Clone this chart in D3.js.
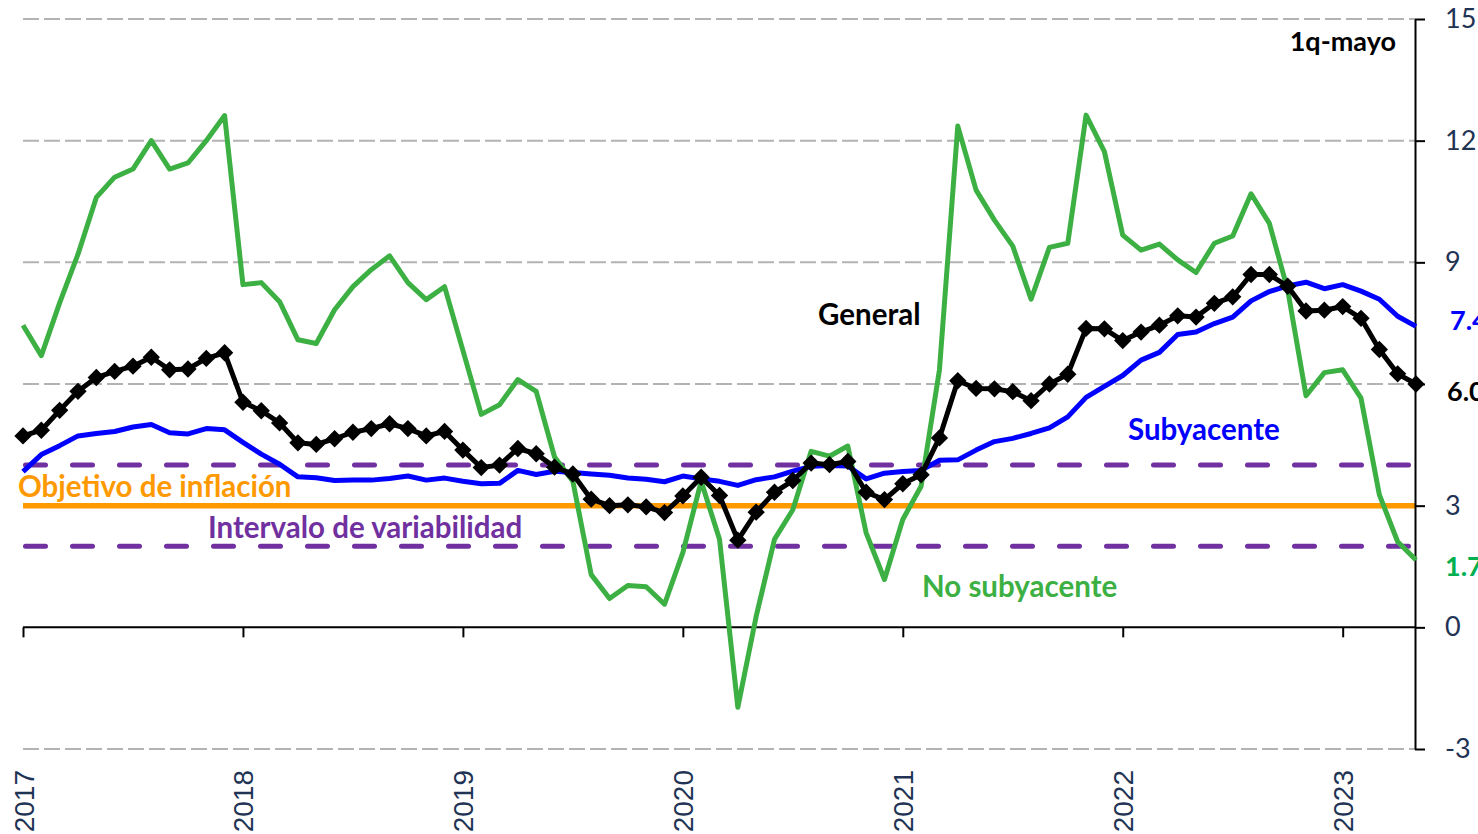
<!DOCTYPE html>
<html>
<head>
<meta charset="utf-8">
<script src="https://cdn.jsdelivr.net/npm/d3@7"></script>
<style>
html,body{margin:0;padding:0;background:#fff;overflow:hidden;}
svg{display:block;font-family:Lato,"Open Sans",sans-serif;}
</style>
</head>
<body>
<svg id="chart" width="1478" height="834"></svg>
<script>
// ---- data (annual inflation, %, monthly Jan-2017 .. 1q May-2023)
const years = ["2017","2018","2019","2020","2021","2022","2023"];
const yTicks = [15, 12, 9, 6, 3, 0, -3];
const yTickLabels = ["15", "12", "9", "", "3", "0", "-3"];
const gridValues = [15, 12, 9, 6, -3];
const general = [
  4.72, 4.86, 5.35, 5.82, 6.16, 6.31, 6.44, 6.66, 6.35, 6.37, 6.63, 6.77,
  5.55, 5.34, 5.04, 4.55, 4.51, 4.65, 4.81, 4.90, 5.02, 4.90, 4.72, 4.83,
  4.37, 3.94, 4.00, 4.41, 4.28, 3.95, 3.78, 3.16, 3.00, 3.02, 2.97, 2.83,
  3.24, 3.70, 3.25, 2.15, 2.84, 3.33, 3.62, 4.05, 4.01, 4.09, 3.33, 3.15,
  3.54, 3.76, 4.67, 6.08, 5.89, 5.88, 5.81, 5.59, 6.00, 6.24, 7.37, 7.36,
  7.07, 7.28, 7.45, 7.68, 7.65, 7.99, 8.15, 8.70, 8.70, 8.41, 7.80, 7.82,
  7.91, 7.62, 6.85, 6.25, 6.00
];
const subyacente = [
  3.84, 4.26, 4.48, 4.72, 4.78, 4.83, 4.94, 5.00, 4.80, 4.77, 4.90, 4.87,
  4.56, 4.27, 4.02, 3.71, 3.69, 3.62, 3.63, 3.63, 3.67, 3.73, 3.63, 3.68,
  3.60, 3.54, 3.55, 3.87, 3.77, 3.85, 3.82, 3.78, 3.75, 3.68, 3.65, 3.59,
  3.73, 3.66, 3.60, 3.50, 3.64, 3.71, 3.85, 3.97, 3.99, 3.98, 3.66, 3.80,
  3.84, 3.87, 4.12, 4.13, 4.37, 4.58, 4.66, 4.78, 4.92, 5.19, 5.67, 5.94,
  6.21, 6.59, 6.78, 7.22, 7.28, 7.49, 7.65, 8.05, 8.28, 8.42, 8.51, 8.35,
  8.45, 8.29, 8.09, 7.67, 7.42
];
const noSubyacente = [
  7.45, 6.70, 8.00, 9.20, 10.60, 11.10, 11.30, 12.00, 11.30, 11.45, 12.00, 12.62,
  8.45, 8.50, 8.03, 7.09, 7.00, 7.83, 8.40, 8.82, 9.16, 8.50, 8.08, 8.40,
  6.83, 5.25, 5.49, 6.11, 5.82, 4.20, 3.60, 1.30, 0.71, 1.03, 1.00, 0.57,
  1.84, 3.60, 2.17, -1.97, 0.27, 2.17, 2.90, 4.34, 4.22, 4.47, 2.33, 1.18,
  2.66, 3.48, 6.35, 12.36, 10.78, 10.04, 9.40, 8.09, 9.37, 9.47, 12.63, 11.73,
  9.67, 9.30, 9.45, 9.06, 8.75, 9.47, 9.65, 10.69, 9.96, 8.32, 5.71, 6.28,
  6.35, 5.65, 3.27, 2.11, 1.66
];
const objetivo = 3;
const intervalo = [2, 4];
const lastLabels = ["7.4", "6.0", "1.7"];

// ---- scales
const svg = d3.select("#chart");
const nPts = general.length;
const x = d3.scaleLinear().domain([0, nPts - 1]).range([23, 1416]);
const y = d3.scaleLinear().domain([-3, 15]).range([749, 19]);
const xLeft = x(0), xRight = 1415;

// gridlines
svg.append("g").selectAll("line").data(gridValues).join("line")
  .attr("x1", xLeft).attr("x2", xRight)
  .attr("y1", d => y(d)).attr("y2", d => y(d))
  .attr("stroke", "#b3b3b3").attr("stroke-width", 2)
  .attr("stroke-dasharray", "16,5");

// target band and target
svg.append("g").selectAll("line").data(intervalo).join("line")
  .attr("x1", xLeft + 2.5).attr("x2", xRight - 4)
  .attr("y1", d => y(d)).attr("y2", d => y(d))
  .attr("stroke", "#7030a0").attr("stroke-width", 5)
  .attr("stroke-linecap", "round")
  .attr("stroke-dasharray", "20,27");
svg.append("line")
  .attr("x1", xLeft).attr("x2", xRight)
  .attr("y1", y(objetivo)).attr("y2", y(objetivo))
  .attr("stroke", "#ff9900").attr("stroke-width", 5.5);

// x axis at 0
const yearIdx = years.map((_, i) => i * 12);
const xAxis = svg.append("g").attr("transform", `translate(0,${y(0)})`)
  .call(d3.axisBottom(x).tickValues(yearIdx).tickSize(10).tickSizeOuter(0)
    .tickFormat((d, i) => years[i]));
xAxis.select(".domain").attr("stroke", "#000").attr("stroke-width", 2)
  .attr("d", `M${xLeft},0H${xRight}`);
xAxis.selectAll(".tick line").attr("stroke", "#000").attr("stroke-width", 2);
xAxis.selectAll(".tick text")
  .attr("fill", "#1f3354").attr("font-size", 28)
  .attr("text-anchor", "end").attr("dy", null)
  .attr("transform", `translate(10,${770 - y(0)}) rotate(-90)`)
  .attr("x", 0).attr("y", 0);

// right axis
const yAxis = svg.append("g").attr("transform", `translate(${xRight},0)`)
  .call(d3.axisRight(y).tickValues(yTicks).tickSize(10).tickSizeOuter(0).tickPadding(20)
    .tickFormat((d, i) => yTickLabels[i]));
yAxis.select(".domain").attr("stroke", "#000").attr("stroke-width", 2);
yAxis.selectAll(".tick line").attr("stroke", "#000").attr("stroke-width", 2);
yAxis.selectAll(".tick text").attr("fill", "#1f3354").attr("font-size", 27)
  .attr("font-family", "Lato, sans-serif");

// series lines
const line = d3.line().x((d, i) => x(i)).y(d => y(d));
svg.append("path").datum(noSubyacente).attr("d", line)
  .attr("fill", "none").attr("stroke", "#3cb043").attr("stroke-width", 5)
  .attr("stroke-linejoin", "round");
svg.append("path").datum(subyacente).attr("d", line)
  .attr("fill", "none").attr("stroke", "#0000ff").attr("stroke-width", 5)
  .attr("stroke-linejoin", "round");
svg.append("path").datum(general).attr("d", line)
  .attr("fill", "none").attr("stroke", "#000").attr("stroke-width", 5)
  .attr("stroke-linejoin", "round");
const diamond = d3.symbol().type(d3.symbolSquare).size(150);
svg.append("g").selectAll("path").data(general).join("path")
  .attr("d", diamond)
  .attr("transform", (d, i) => `translate(${x(i)},${y(d)}) rotate(45)`)
  .attr("fill", "#000");

// labels
const lab = (t, xx, yy, col, size, anchor) => svg.append("text")
  .attr("x", xx).attr("y", yy).attr("fill", col)
  .attr("font-size", size).attr("font-weight", "bold")
  .attr("text-anchor", anchor || "start").text(t);
lab("1q-mayo", 1396, 51, "#000", 27, "end");
lab("General", 818, 325, "#000", 29.5);
lab("Subyacente", 1128, 440, "#0000ff", 29.5);
lab("No subyacente", 922, 597, "#3cb043", 29.5);
lab("Objetivo de inflación", 18, 497, "#ff9900", 29.5);
lab("Intervalo de variabilidad", 208, 538, "#7030a0", 29.5);
lab(lastLabels[0], 1450, 330, "#0000ff", 27);
lab(lastLabels[1], 1447, 401, "#000", 27);
lab(lastLabels[2], 1445, 576, "#00b050", 27);
</script>
</body>
</html>
